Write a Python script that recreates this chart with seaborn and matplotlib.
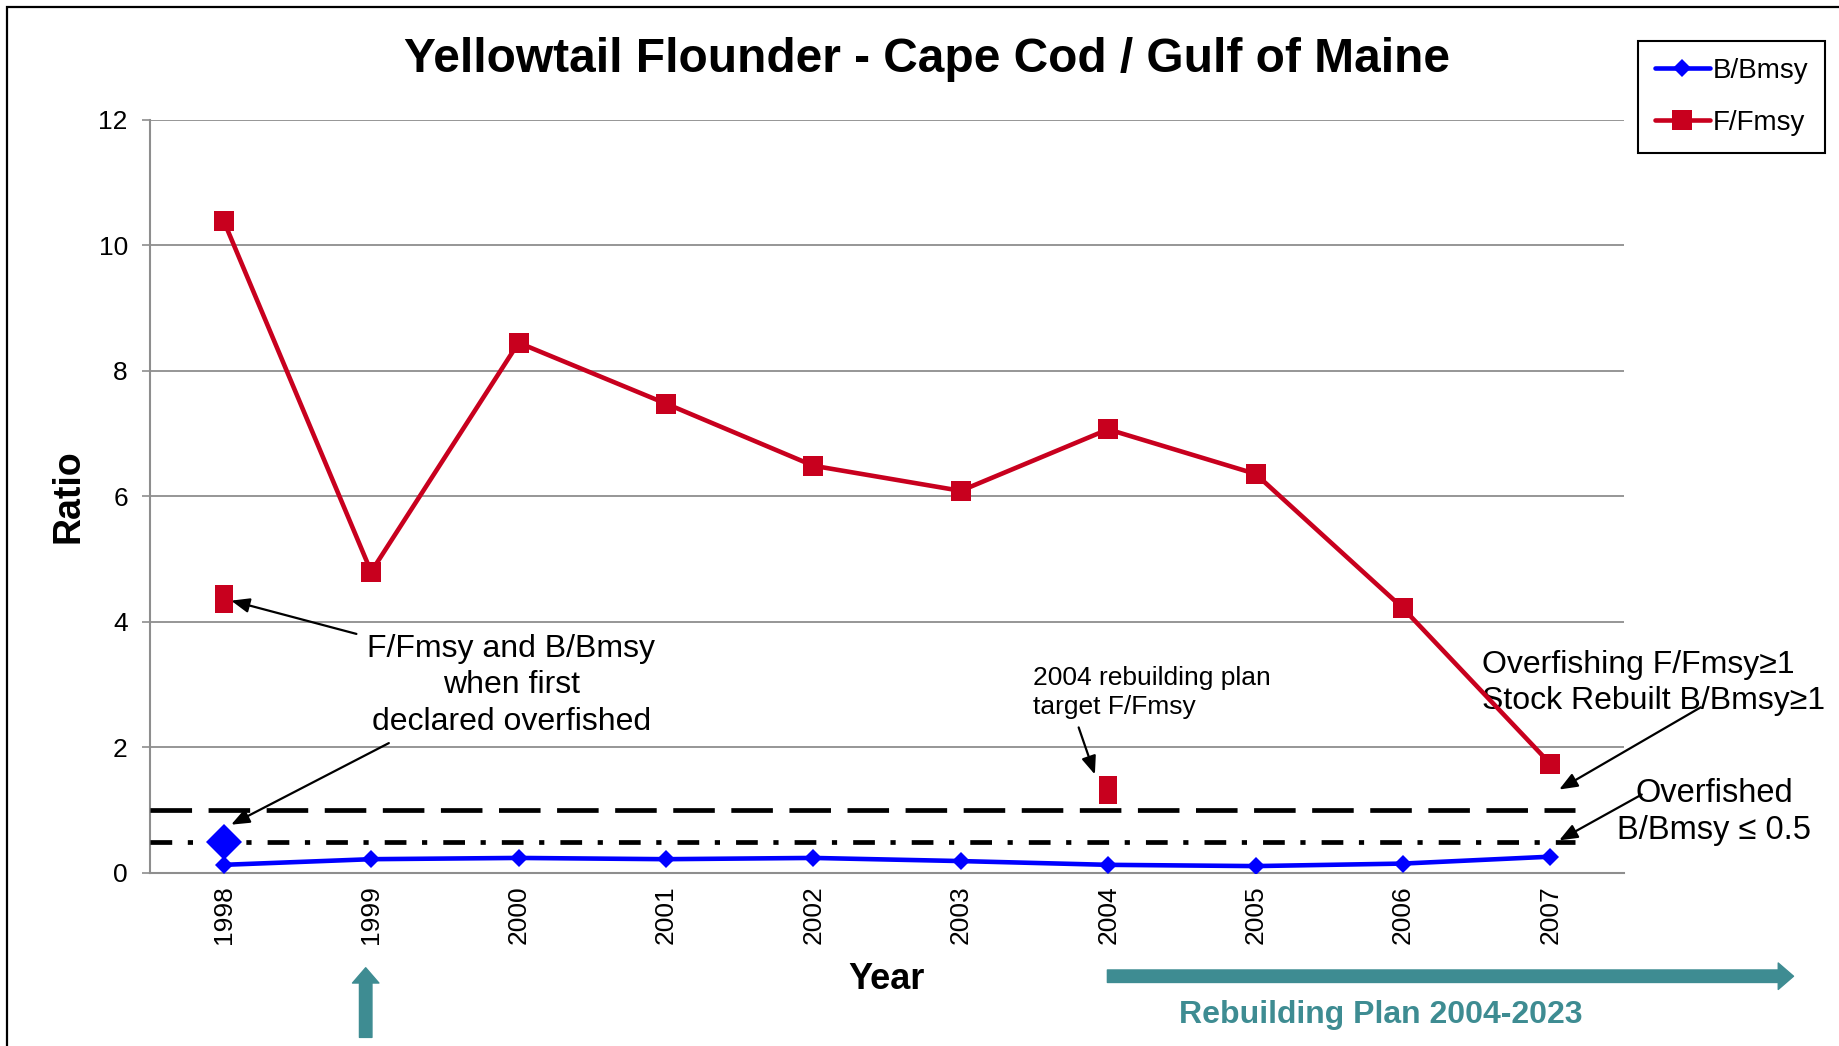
import matplotlib.pyplot as plt
import numpy as np
import pandas as pd
import seaborn as sns
from matplotlib.patches import Rectangle

# Data
years = ["1998", "1999", "2000", "2001", "2002", "2003", "2004", "2005", "2006", "2007"]
f_fmsy = [10.39, 4.80, 8.45, 7.48, 6.49, 6.09, 7.07, 6.36, 4.22, 1.74]
b_bmsy = [0.13, 0.22, 0.24, 0.22, 0.24, 0.19, 0.13, 0.11, 0.15, 0.26]

# values when first declared overfished (1998)
first_year = "1998"
first_f = 4.37
first_b = 0.50
# 2004 rebuilding plan target
target_year = "2004"
target_f = 1.33

# reference levels
overfishing_level = 1.0
overfished_level = 0.5

BLUE = "#0000ff"
RED = "#c8001e"
TEAL = "#3e8c92"
GRID = "#8e8e8e"

sns.set_theme(style="white")
plt.rcParams["font.family"] = ["Liberation Sans", "DejaVu Sans"]
plt.rcParams.update({"text.color": "black", "axes.labelcolor": "black",
                     "xtick.color": "black", "ytick.color": "black"})

df = pd.DataFrame({"year": years, "pos": np.arange(len(years)),
                   "F/Fmsy": f_fmsy, "B/Bmsy": b_bmsy})
pos_of = {y: i for i, y in enumerate(years)}

fig = plt.figure(figsize=(18.39, 10.46), dpi=100)
ax = fig.add_axes([0.0816, 0.1654, 0.8015, 0.7199])

# reference lines
ax.hlines(overfishing_level, -0.5, 9.17, colors="black", lw=3.4,
          linestyles=(0, (8.8, 3.5)), zorder=3)
ax.hlines(overfished_level, -0.5, 9.17, colors="black", lw=3.4,
          linestyles=(0, (4.6, 3.3, 1.1, 3.4)), zorder=3)

sns.lineplot(data=df, x="pos", y="B/Bmsy", ax=ax, color=BLUE, lw=3.3,
             marker="D", markersize=9.5, markeredgewidth=0, label="B/Bmsy", zorder=5)
sns.lineplot(data=df, x="pos", y="F/Fmsy", ax=ax, color=RED, lw=3.3,
             marker="s", markersize=14, markeredgewidth=0, label="F/Fmsy", zorder=5)

# single highlighted points
rect_marker = [(-0.32, -0.5), (0.32, -0.5), (0.32, 0.5), (-0.32, 0.5), (-0.32, -0.5)]
ax.plot([pos_of[first_year], pos_of[target_year]], [first_f, target_f], ls="none",
        marker=rect_marker, markersize=20, color=RED, mew=0, zorder=6)
ax.plot([pos_of[first_year]], [first_b], ls="none", marker="D", markersize=18,
        color=BLUE, mew=0, zorder=6)

ax.set_xlim(-0.5, 9.5)
ax.set_ylim(0, 12)
ax.set_yticks(np.arange(0, 13, 2))
ax.set_xticks(df["pos"])
ax.set_xticklabels(years, rotation=90)
ax.tick_params(axis="y", length=6, width=1.2, color=GRID, labelsize=19, pad=10, left=True)
ax.tick_params(axis="x", length=0, labelsize=19, pad=9)
ax.yaxis.grid(True, color=GRID, lw=1.3)
ax.set_axisbelow(True)
for s in ["top", "right"]:
    ax.spines[s].set_visible(False)
for s in ["left", "bottom"]:
    ax.spines[s].set_color(GRID)
    ax.spines[s].set_linewidth(1.5)

ax.set_xlabel("Year", fontsize=26, fontweight="bold")
ax.set_ylabel("Ratio", fontsize=27, fontweight="bold")
ax.xaxis.set_label_coords(0.5, -0.118)
ax.yaxis.set_label_coords(-0.043, 0.5)

fig.text(0.504, 0.943, "Yellowtail Flounder - Cape Cod / Gulf of Maine",
         ha="center", va="center", fontsize=34.5, fontweight="bold")

# legend
handles, labels = ax.get_legend_handles_labels()
leg = ax.legend(handles[:2], labels[:2], loc="upper left", bbox_to_anchor=(0.8907, 0.9608),
                bbox_transform=fig.transFigure, fancybox=False, edgecolor="black",
                fontsize=20, handlelength=2.0, handletextpad=0.1, borderpad=0.6,
                labelspacing=0.95, borderaxespad=0, framealpha=1)
leg.get_frame().set_linewidth(1.5)

# annotations
arrow_kw = dict(arrowstyle="-|>,head_length=0.55,head_width=0.22", color="black",
                lw=1.6, shrinkA=0, shrinkB=0, mutation_scale=20)
ax.text(1.95, 2.99, "F/Fmsy and B/Bmsy\nwhen first\ndeclared overfished",
        ha="center", va="center", multialignment="center", fontsize=23, linespacing=1.28)
ax.annotate("", xy=(0.05, 4.34), xytext=(0.90, 3.81), arrowprops=arrow_kw)
ax.annotate("", xy=(0.05, 0.77), xytext=(1.12, 2.07), arrowprops=arrow_kw)

ax.text(5.49, 2.88, "2004 rebuilding plan\ntarget F/Fmsy", ha="left", va="center",
        fontsize=19, linespacing=1.28)
ax.annotate("", xy=(5.91, 1.57), xytext=(5.80, 2.32), arrowprops=arrow_kw)

ax.text(8.535, 3.03, "Overfishing F/Fmsy\u22651\nStock Rebuilt B/Bmsy\u22651",
        ha="left", va="center", fontsize=23, linespacing=1.28, clip_on=False)
ax.annotate("", xy=(9.06, 1.33), xytext=(10.02, 2.64), arrowprops=arrow_kw,
            annotation_clip=False)

ax.text(10.11, 0.97, "Overfished\nB/Bmsy \u2264 0.5", ha="center", va="center",
        multialignment="center", fontsize=23.5, linespacing=1.28, clip_on=False)
ax.annotate("", xy=(9.06, 0.52), xytext=(9.62, 1.25), arrowprops=arrow_kw,
            annotation_clip=False)

# teal arrows below the axis
block_kw = dict(arrowstyle="simple,head_length=0.55,head_width=0.95,tail_width=0.45",
                color=TEAL, shrinkA=0, shrinkB=0, mutation_scale=20)
ax.annotate("", xy=(0.963, -1.51), xytext=(0.963, -2.62), arrowprops=block_kw,
            annotation_clip=False)
ax.annotate("", xy=(10.65, -1.645), xytext=(5.995, -1.645), arrowprops=block_kw,
            annotation_clip=False)
ax.text(7.85, -2.26, "Rebuilding Plan 2004-2023", ha="center", va="center",
        fontsize=23, fontweight="bold", color=TEAL, clip_on=False)

# slide border (partially cropped)
fig.add_artist(Rectangle((0.0038, -0.5), 2, 0.9933 + 0.5, transform=fig.transFigure,
                         fill=False, ec="black", lw=1.6, clip_on=False))

fig.savefig("out.png", dpi=100)
